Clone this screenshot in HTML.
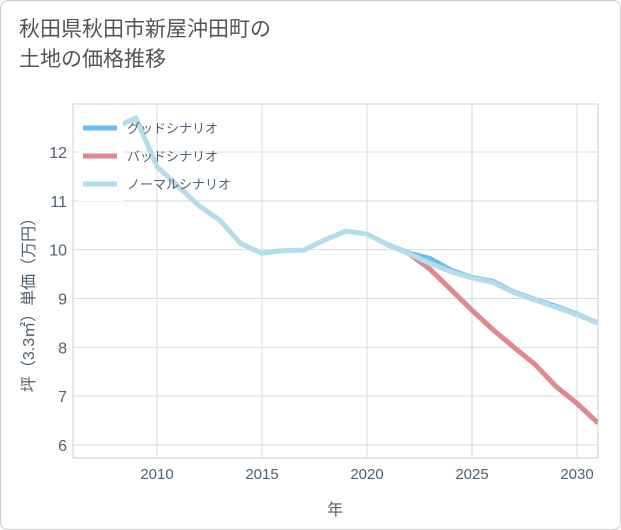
<!DOCTYPE html>
<html><head><meta charset="utf-8"><style>
body{margin:0;background:#fff;font-family:"Liberation Sans","Noto Sans CJK JP",sans-serif;}
#wrap{position:relative;width:619px;height:528px;border:1px solid #ccc;border-radius:8px;overflow:hidden;background:#fff}
#title{position:absolute;left:18px;top:14px;font-size:21px;line-height:30px;color:#555}
</style></head><body>
<div id="wrap">
<div id="title">秋田県秋田市新屋沖田町の<br>土地の価格推移</div>
<svg id="chart" width="621" height="530" style="position:absolute;left:0;top:0"></svg>
</div>
<script>
const years=[2008,2009,2010,2011,2012,2013,2014,2015,2016,2017,2018,2019,2020,2021,2022,2023,2024,2025,2026,2027,2028,2029,2030,2031];
const normal=[12.5,12.7,11.7,11.3,10.9,10.6,10.12,9.93,9.98,9.99,10.2,10.38,10.32,10.1,9.92,9.72,9.55,9.42,9.33,9.12,8.97,8.82,8.67,8.5];
const goodYears=[2021,2022,2023,2024,2025,2026,2027,2028,2029,2030,2031];
const good=[10.1,9.93,9.82,9.58,9.43,9.35,9.13,8.98,8.84,8.68,8.5];
const badYears=[2021,2022,2023,2024,2025,2026,2027,2028,2029,2030,2031];
const bad=[10.1,9.92,9.6,9.18,8.76,8.36,8.0,7.65,7.2,6.85,6.45];
const xTicks=[2010,2015,2020,2025,2030];
const yTicks=[6,7,8,9,10,11,12];
const L=72,R=597,T=103,B=457;
const x=v=>L+(v-2006)*(R-L)/25;
const y=v=>444-(v-6)*(444-151)/6;
const svg=document.getElementById('chart');
const NS='http://www.w3.org/2000/svg';
const TXT='#4f6070';
function mk(t,a,p){const e=document.createElementNS(NS,t);for(const k in a)e.setAttribute(k,a[k]);(p||svg).appendChild(e);return e;}
const grid=mk('g',{});


xTicks.forEach(t=>{
 const l=mk('line',{x1:x(t),x2:x(t),y1:T,y2:B,stroke:'#d5dde5'},grid);
 
 
 const tx=mk('text',{x:x(t),y:B+21,'text-anchor':'middle','font-size':15,fill:TXT});
 tx.textContent=t;
 
 
});
yTicks.forEach(t=>{
 const l=mk('line',{x1:L,x2:R,y1:y(t),y2:y(t),stroke:'#d5dde5'},grid);
 
 
 const tx=mk('text',{x:L-6,y:y(t)+6,'text-anchor':'end','font-size':16,fill:TXT});
 tx.textContent=t;
 
 
});
const fr=mk('rect',{x:L,y:T,width:R-L,height:B-T,fill:'none',stroke:'#c8d0d8'});


const clip=mk('clipPath',{id:'c'});mk('rect',{x:L,y:T,width:R-L,height:B-T},clip);
function line(xs,vs,col,name){
 const p=mk('polyline',{points:xs.map((v,i)=>x(v)+','+y(vs[i])).join(' '),fill:'none',stroke:col,'stroke-width':5,'stroke-linejoin':'round','clip-path':'url(#c)'});
 
 
}
line(badYears,bad,'#e0888f','bad-scenario-line');
line(goodYears,good,'#6bbcf0','good-scenario-line');
line(years,normal,'#b5dcea','normal-scenario-line');
const lg=mk('g',{});


mk('rect',{x:78,y:112,width:44,height:88,fill:'#fff'},lg);
const leg=[['グッドシナリオ','#6bbcf0',127],['バッドシナリオ','#e0888f',155],['ノーマルシナリオ','#b5dcea',183]];
leg.forEach(e=>{
 const sw=mk('line',{x1:82,x2:116,y1:e[2],y2:e[2],stroke:e[1],'stroke-width':5},lg);
 
 
 const t=mk('text',{x:126,y:e[2]+5,'font-size':13,fill:TXT},lg);
 t.textContent=e[0];
 
 
});
const xt=mk('text',{x:334,y:514,'text-anchor':'middle','font-size':16,fill:TXT});
xt.textContent='年';


const yt=mk('text',{x:0,y:0,'text-anchor':'middle','font-size':16,fill:TXT,transform:'translate(33,300) rotate(-90)'});
yt.textContent='坪（3.3㎡）単価（万円）';


</script>
</body></html>
